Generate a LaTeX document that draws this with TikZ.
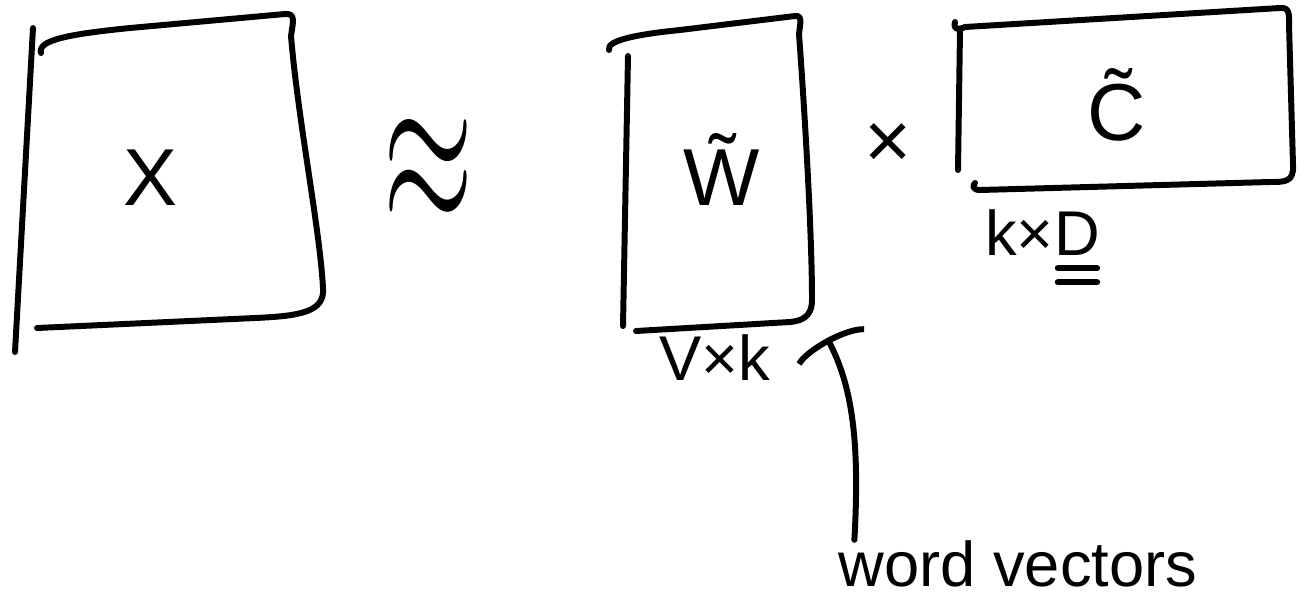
\documentclass[tikz,border=0pt]{standalone}
\usepackage{fontspec}
\setmainfont{Liberation Sans}
\usetikzlibrary{arrows.meta,positioning}

\begin{document}
\begin{tikzpicture}[x=0.02cm,y=-0.02cm,
sketch/.style={line width=3.4pt,line cap=round,line join=round},
lbl/.style={inner sep=0pt,font=\fontsize{36}{40}\selectfont},
big/.style={inner sep=0pt,font=\fontsize{46}{50}\selectfont}]
\useasboundingbox (0,0) rectangle (1301,603);

% co-occurrence matrix X
\draw[sketch] (33,28) -- (15,352);
\draw[sketch] (41,53) .. controls (37,40) and (70,34) .. (130,28) -- (285,14)
  .. controls (296,13) and (293,22) .. (291,36)
  .. controls (298,120) and (320,230) .. (323,288)
  .. controls (325,312) and (300,316) .. (255,318) -- (37,328);
\node[big,anchor=base] (X) at (150,205) {X};

\node[inner sep=0pt] (approx) at (428,172) {\resizebox{1.8cm}{2.1cm}{$\approx$}};

% factor W
\draw[sketch] (628,56) -- (623,326);
\draw[sketch] (609,50) .. controls (606,40) and (640,34) .. (680,30) -- (795,16)
  .. controls (803,15) and (800,24) .. (799,34)
  .. controls (806,130) and (812,240) .. (812,300)
  .. controls (812,318) and (800,321) .. (790,322) -- (636,331);
\node[big,anchor=base] (W) at (722,205) {\~W};
\node[lbl,anchor=base] (Wdim) at (715,380) {V×k};

\node[big,anchor=base] (times) at (888,168) {×};

% factor C
\draw[sketch] (960,30) -- (958,170);
\draw[sketch] (955,22) .. controls (953,30) and (958,30) .. (965,27) -- (1280,8)
  .. controls (1290,7) and (1289,15) .. (1289,25) -- (1293,165)
  .. controls (1294,182) and (1285,182) .. (1270,182) -- (980,190)
  .. controls (973,190) and (972,186) .. (975,183);
\node[big,anchor=base] (C) at (1117,140) {\~C};
\node[lbl,anchor=base west] (kx) at (985,255) {k×};
\node[lbl,anchor=base west] (D) at (kx.base east) {D};
\draw[sketch] ([xshift=2pt,yshift=-0.26cm]D.south west) -- ([xshift=-2pt,yshift=-0.26cm]D.south east);
\draw[sketch] ([xshift=2pt,yshift=-0.54cm]D.south west) -- ([xshift=-2pt,yshift=-0.54cm]D.south east);

% pointer to the word vectors
\node[lbl,anchor=base] (wv) at (1018,586) {word vectors};
\coordinate (tip) at (827,338);
\draw[sketch,-{Arc Barb[width=1.75cm,arc=130]}] ([xshift=0.32cm]wv.north west)
  .. controls (860,440) and (852,385) .. (tip);
\end{tikzpicture}
\end{document}
